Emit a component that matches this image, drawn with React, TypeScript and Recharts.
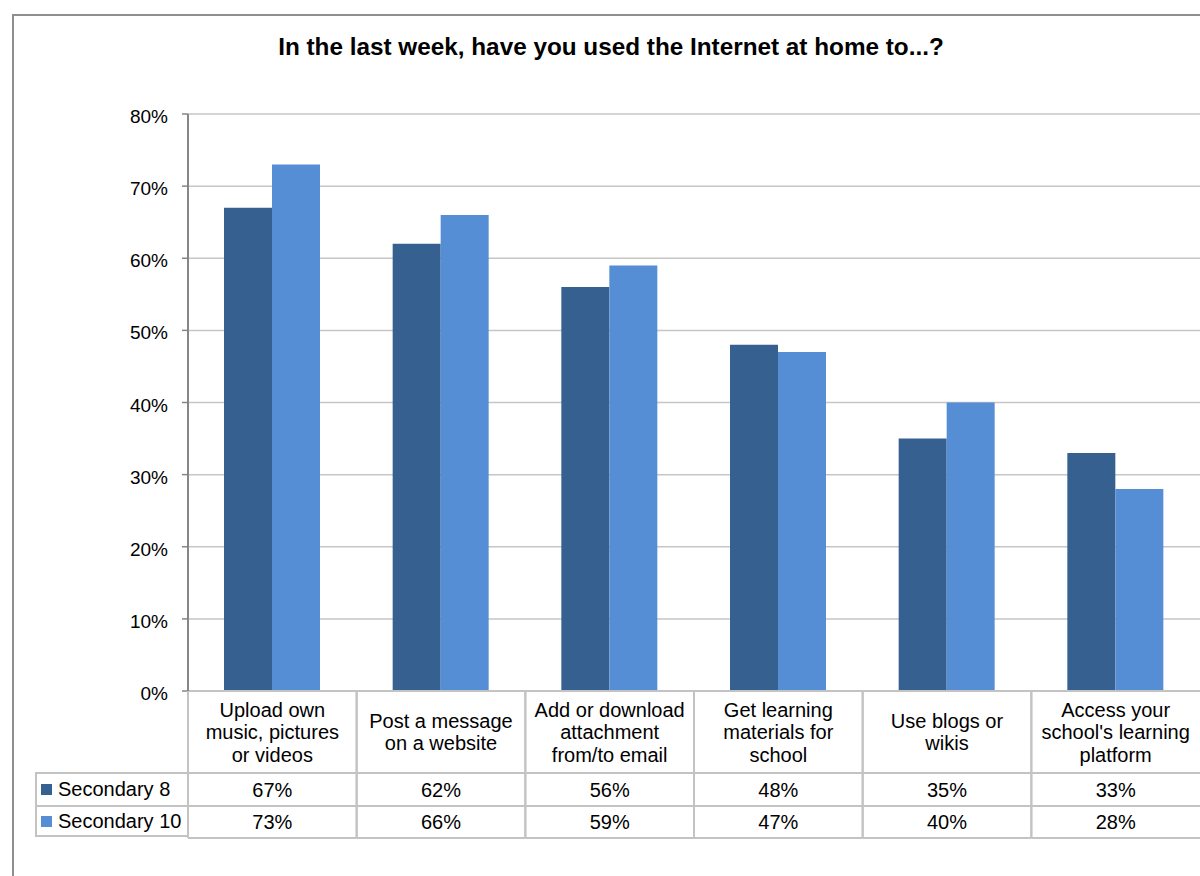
import React from 'react';
import { BarChart, Bar, XAxis, YAxis, CartesianGrid } from 'recharts';

const categories = [
  'Upload own\nmusic, pictures\nor videos',
  'Post a message\non a website',
  'Add or download\nattachment\nfrom/to email',
  'Get learning\nmaterials for\nschool',
  'Use blogs or\nwikis',
  "Access your\nschool's learning\nplatform",
];
const secondary8 = [0.67, 0.62, 0.56, 0.48, 0.35, 0.33];
const secondary10 = [0.73, 0.66, 0.59, 0.47, 0.40, 0.28];
const yTicks = [0, 0.1, 0.2, 0.3, 0.4, 0.5, 0.6, 0.7, 0.8];
const seriesNames = ['Secondary 8', 'Secondary 10'];
const seriesColors = ['#36608f', '#558ed5'];

const data = categories.map((c, i) => ({
  category: c,
  s8: secondary8[i],
  s10: secondary10[i],
}));

const FONT = '"Liberation Sans", Arial, sans-serif';
const PLOT_LEFT = 188;
const PLOT_TOP = 114;
const PLOT_BOTTOM = 691;
const COL_W = (1200 - PLOT_LEFT) / categories.length;
const ROW1 = 773;
const ROW2 = 806;
const ROW3 = 838;
const LINE = '#c3c3c3';
const TXT = 20;

const pct = (v: number) => `${Math.round(v * 100)}%`;

// one column of the data table: category label + both values
const TableTick = (props: any) => {
  const { x, payload } = props;
  const i = payload.index;
  const lines = String(payload.value).split('\n');
  const lh = 22.5;
  const cy = (PLOT_BOTTOM + ROW1) / 2;
  const startY = cy - ((lines.length - 1) * lh) / 2;
  const l = x - COL_W / 2;
  const r = x + COL_W / 2;
  return (
    <g fontFamily={FONT} fontSize={TXT} fill="#000">
      <line x1={l} y1={PLOT_BOTTOM} x2={l} y2={ROW3} stroke={LINE} strokeWidth={2} />
      {i < categories.length - 1 && (
        <line x1={r} y1={PLOT_BOTTOM} x2={r} y2={ROW3} stroke={LINE} strokeWidth={2} />
      )}
      <line x1={l} y1={ROW1} x2={r} y2={ROW1} stroke={LINE} strokeWidth={2} />
      <line x1={l} y1={ROW2} x2={r} y2={ROW2} stroke={LINE} strokeWidth={2} />
      <line x1={l} y1={ROW3} x2={r} y2={ROW3} stroke={LINE} strokeWidth={2} />
      {lines.map((t, k) => (
        <text key={k} x={x} y={startY + k * lh + 7} textAnchor="middle">
          {t}
        </text>
      ))}
      <text x={x} y={(ROW1 + ROW2) / 2 + 7} textAnchor="middle">
        {pct(secondary8[i])}
      </text>
      <text x={x} y={(ROW2 + ROW3) / 2 + 7} textAnchor="middle">
        {pct(secondary10[i])}
      </text>
    </g>
  );
};

const YTick = (props: any) => {
  const { x, y, payload } = props;
  return (
    <text x={x} y={y + 9} textAnchor="end" fontFamily={FONT} fontSize={19} fill="#000">
      {pct(payload.value)}
    </text>
  );
};

const App: React.FC = () => {
  return (
    <div style={{ position: 'absolute', left: 0, top: 0, width: 1200, height: 876, overflow: 'hidden', background: '#fff' }}>
      {/* chart frame */}
      <div
        style={{
          position: 'absolute',
          left: 12,
          top: 14,
          width: 1220,
          height: 900,
          border: '2px solid #8f8f8f',
          boxSizing: 'border-box',
        }}
      />
      <div
        style={{
          position: 'absolute',
          left: 0,
          width: 1222,
          top: 33,
          textAlign: 'center',
          fontFamily: FONT,
          fontWeight: 'bold',
          fontSize: 24.3,
          lineHeight: '28px',
          color: '#000',
        }}
      >
        In the last week, have you used the Internet at home to...?
      </div>
      <div style={{ position: 'absolute', left: 0, top: 0 }}>
        <BarChart
          width={1200}
          height={876}
          data={data}
          margin={{ top: PLOT_TOP, right: 0, bottom: 0, left: 0 }}
          barGap={0}
          barSize={48}
        >
          <CartesianGrid vertical={false} stroke="#c6c6c6" strokeWidth={1.5} />
          <XAxis
            dataKey="category"
            interval={0}
            height={876 - PLOT_BOTTOM}
            tickLine={false}
            axisLine={{ stroke: LINE, strokeWidth: 2 }}
            tick={<TableTick />}
          />
          <YAxis
            width={PLOT_LEFT}
            domain={[0, 0.8]}
            ticks={yTicks}
            tickSize={6}
            tickMargin={14}
            axisLine={{ stroke: '#868686', strokeWidth: 2 }}
            tickLine={{ stroke: '#868686', strokeWidth: 1.5 }}
            tick={<YTick />}
          />
          <Bar dataKey="s8" name={seriesNames[0]} fill={seriesColors[0]} isAnimationActive={false} />
          <Bar dataKey="s10" name={seriesNames[1]} fill={seriesColors[1]} isAnimationActive={false} />
        </BarChart>
      </div>
      {/* legend column of the data table */}
      <div
        style={{
          position: 'absolute',
          left: 35,
          top: ROW1,
          width: PLOT_LEFT - 35,
          fontFamily: FONT,
          fontSize: TXT,
          color: '#000',
        }}
      >
        {seriesNames.map((n, k) => (
          <div
            key={n}
            style={{
              height: k === 0 ? ROW2 - ROW1 : ROW3 - ROW2,
              borderLeft: `2px solid ${LINE}`,
              borderTop: `2px solid ${LINE}`,
              borderBottom: k === 1 ? `2px solid ${LINE}` : undefined,
              boxSizing: 'border-box',
              display: 'flex',
              alignItems: 'center',
              marginTop: k === 0 ? -1 : 0,
              whiteSpace: 'nowrap',
            }}
          >
            <span style={{ display: 'inline-block', width: 11, height: 11, background: seriesColors[k], marginLeft: 4, marginRight: 6 }} />
            <span>{n}</span>
          </div>
        ))}
      </div>
    </div>
  );
};

export default App;
